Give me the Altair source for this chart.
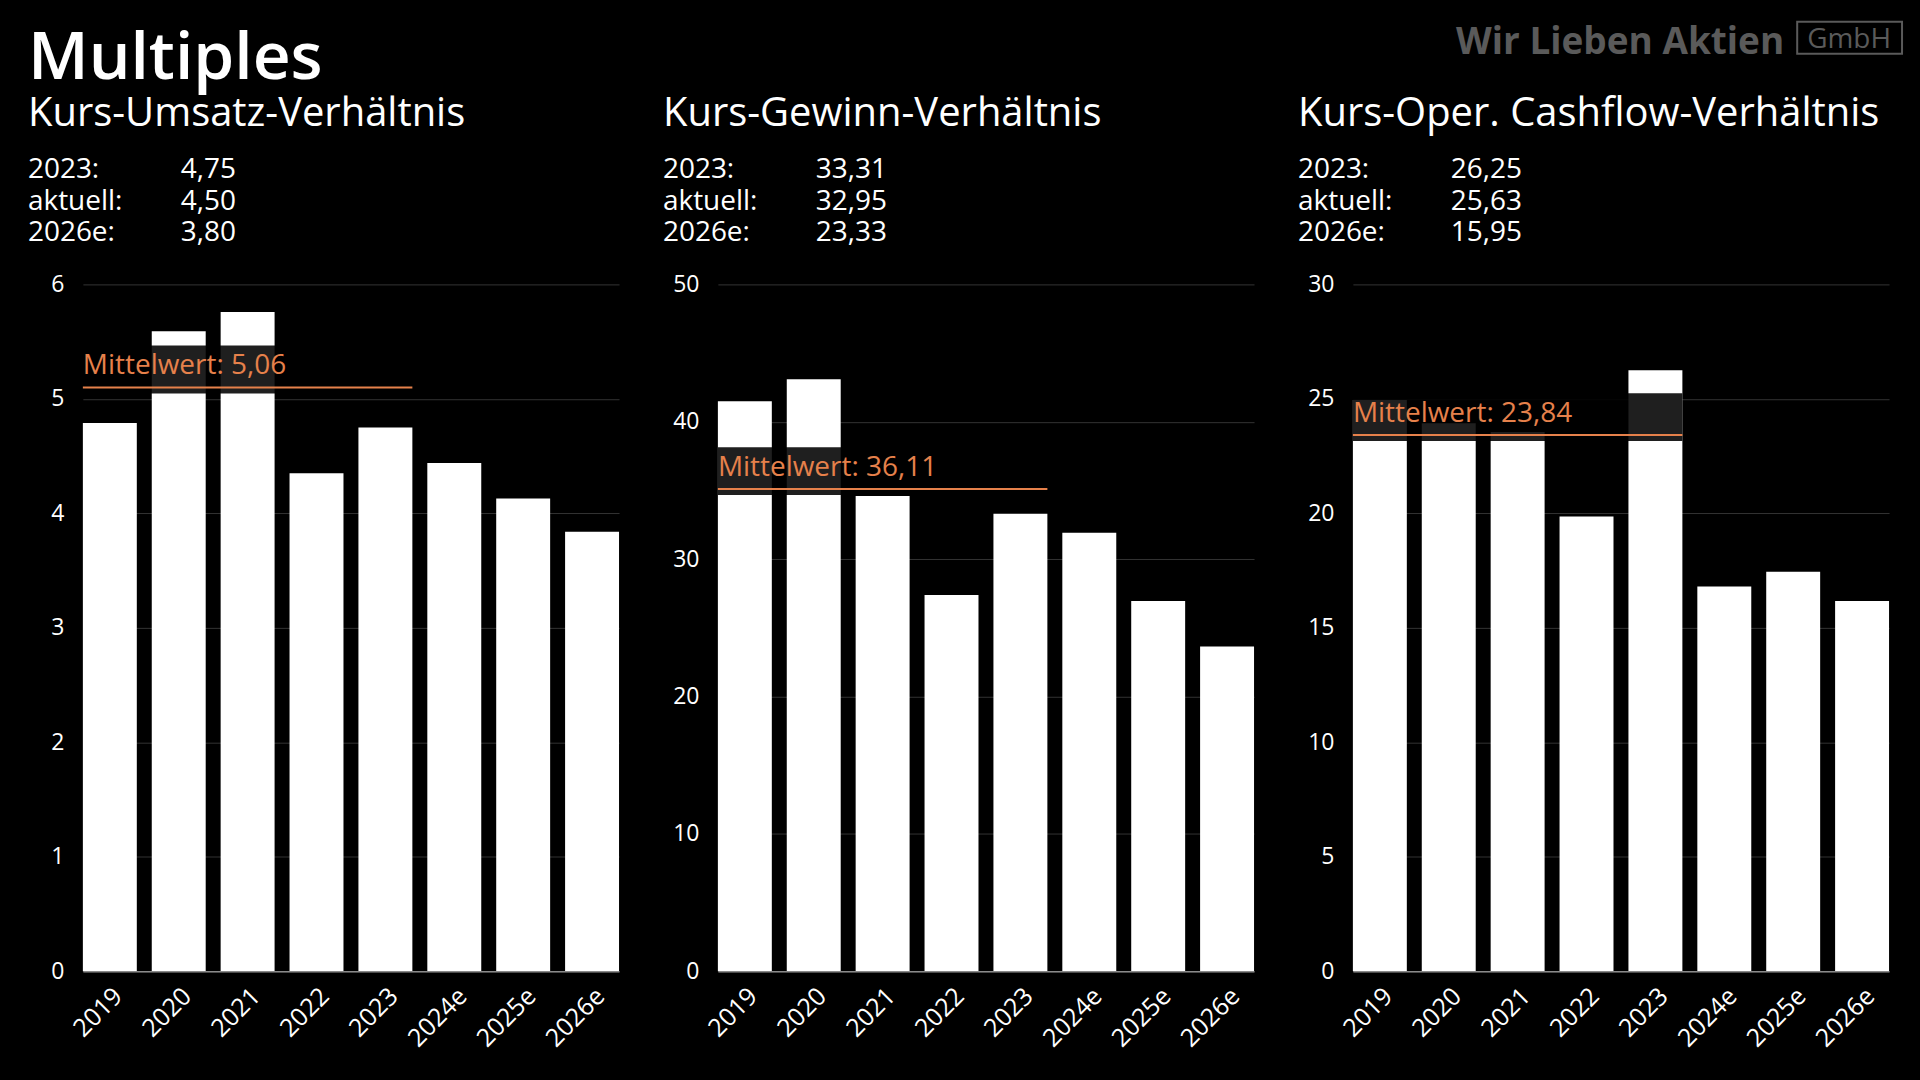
import altair as alt
import pandas as pd

FONT = "Open Sans"
ORANGE = "#E6814B"
LOGO = "#5a5a5a"

years = ["2019", "2020", "2021", "2022", "2023", "2024e", "2025e", "2026e"]
kuv = [4.79, 5.59, 5.76, 4.35, 4.75, 4.44, 4.13, 3.84]
kgv = [41.5, 43.1, 34.6, 27.4, 33.31, 31.93, 26.95, 23.65]
kcv = [24.95, 23.94, 23.55, 19.86, 26.25, 16.81, 17.45, 16.17]
series = [kuv, kgv, kcv]

titles = ["Kurs-Umsatz-Verhältnis", "Kurs-Gewinn-Verhältnis", "Kurs-Oper. Cashflow-Verhältnis"]
stat_labels = ["2023:", "aktuell:", "2026e:"]
stat_values = [["4,75", "4,50", "3,80"], ["33,31", "32,95", "23,33"], ["26,25", "25,63", "15,95"]]
mean_labels = ["Mittelwert: 5,06", "Mittelwert: 36,11", "Mittelwert: 23,84"]
mean_levels = [5.10, 35.10, 23.42]
mean_start = "2019"
mean_end = "2023"
y_max = [6, 50, 30]
y_ticks = [[0, 1, 2, 3, 4, 5, 6], [0, 10, 20, 30, 40, 50], [0, 5, 10, 15, 20, 25, 30]]

W, H = 537, 688
one = alt.Data(values=[{"a": 1}])


def txt(s, x, y, size, color="#ffffff", weight=400, align="left"):
    return alt.Chart(one).mark_text(text=s, align=align, baseline="alphabetic",
                                    fontSize=size, fontWeight=weight, font=FONT,
                                    color=color).encode(x=alt.value(x), y=alt.value(y))


def panel(i):
    df = pd.DataFrame({"year": years, "value": series[i]})
    xscale = alt.Scale(domain=years, paddingInner=0.217, paddingOuter=0)
    yscale = alt.Scale(domain=[0, y_max[i]], nice=False, zero=True)

    bars = alt.Chart(df).mark_bar(color="#ffffff").encode(
        x=alt.X("year:N", scale=xscale, sort=years, title=None,
                axis=alt.Axis(labelAngle=-45, labelFontSize=25, labelColor="#ffffff",
                              labelFont=FONT, ticks=False, domainColor="#8a8a8a",
                              domainWidth=1.5, labelPadding=12, zindex=1, grid=False)),
        y=alt.Y("value:Q", scale=yscale, title=None,
                axis=alt.Axis(values=y_ticks[i], format="d", grid=True, gridColor="#333333",
                              gridWidth=1, domain=False, ticks=False, labelPadding=19,
                              labelFontSize=23, labelColor="#ffffff", labelFont=FONT)),
    )

    mdf = pd.DataFrame({"start": [mean_start], "end": [mean_end],
                        "level": [mean_levels[i]], "label": [mean_labels[i]]})
    mb = alt.Chart(mdf)
    xs = alt.X("start:N", scale=xscale, bandPosition=0, title=None)
    xe = alt.X2("end:N", bandPosition=1)
    yl = alt.Y("level:Q", scale=yscale, title=None)

    box = mb.mark_rect(color="#000000", opacity=0.88, yOffset=6, y2Offset=-42).encode(
        x=xs, x2=xe, y=yl, y2="level:Q")
    rule = mb.mark_rule(color=ORANGE, strokeWidth=2).encode(x=xs, x2=xe, y=yl)
    label = mb.mark_text(align="left", baseline="alphabetic", dy=-13, color=ORANGE,
                         fontSize=28, font=FONT, fontWeight=500).encode(
        x=xs, y=yl, text="label:N")

    spacer = alt.Chart(one).mark_rect(opacity=0).encode(
        x=alt.value(0), x2=alt.value(1), y=alt.value(-275), y2=alt.value(0))

    layers = [spacer, bars, box, rule, label, txt(titles[i], -55, -159, 40)]
    for k in range(3):
        layers.append(txt(stat_labels[k], -55, -107 + 32 * k, 28))
        layers.append(txt(stat_values[i][k], 98, -107 + 32 * k, 28))

    if i == 0:
        layers.append(txt("Multiples", -55, -206, 66, weight=600))
    if i == 2:
        layers.append(txt("Wir Lieben Aktien", 432, -231, 37, color=LOGO, weight=700,
                          align="right"))
        layers.append(alt.Chart(one).mark_rect(filled=False, stroke=LOGO, strokeWidth=2).encode(
            x=alt.value(445), x2=alt.value(550), y=alt.value(-263), y2=alt.value(-231)))
        layers.append(txt("GmbH", 497, -237, 28, color=LOGO, align="center"))
    return alt.layer(*layers).properties(width=W, height=H)


chart = alt.hconcat(panel(0), panel(1), panel(2), spacing=44).configure(
    background="#000000",
    padding={"left": 28, "top": 9, "right": 17, "bottom": 30},
    font=FONT,
).configure_view(stroke=None)

chart.save("out.html", embed_options={"renderer": "svg", "actions": False})
